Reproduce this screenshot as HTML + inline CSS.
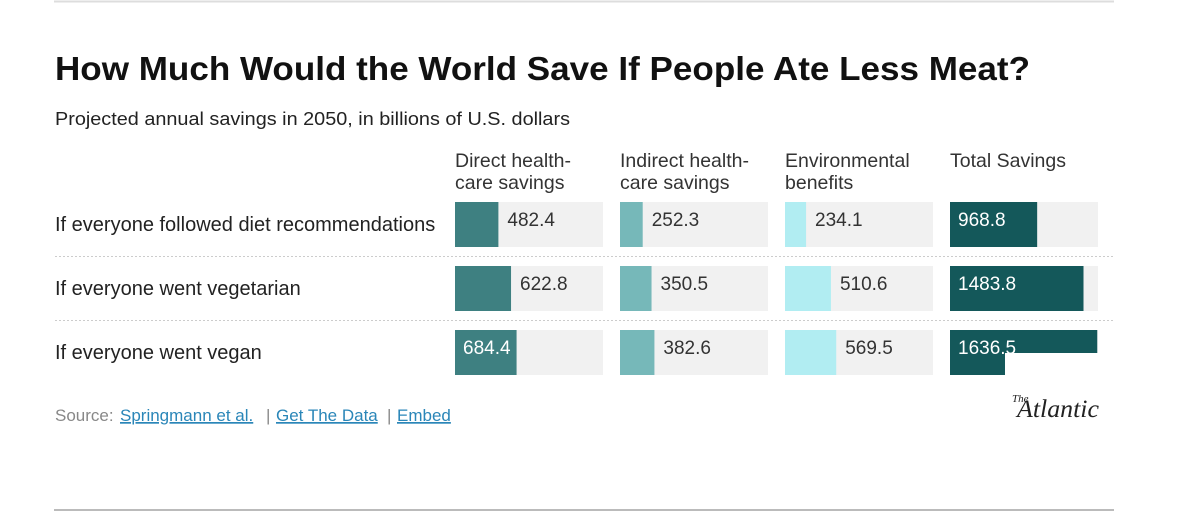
<!DOCTYPE html>
<html><head><meta charset="utf-8"><style>
body{margin:0;background:#fff;width:1200px;height:516px;overflow:hidden;font-family:"Liberation Sans",sans-serif}
svg{display:block}
</style></head><body>
<svg id="chart" width="1200" height="516">
<line x1="54" y1="1.5" x2="1114" y2="1.5" stroke="#ddd" stroke-width="2"/>
<line x1="54" y1="510" x2="1114" y2="510" stroke="#bbb" stroke-width="2"/>
<text x="55" y="80" font-size="33" font-weight="bold" fill="#111" textLength="975" lengthAdjust="spacingAndGlyphs">How Much Would the World Save If People Ate Less Meat?</text>
<text x="55" y="125" font-size="18" fill="#222" textLength="515" lengthAdjust="spacingAndGlyphs">Projected annual savings in 2050, in billions of U.S. dollars</text>
<g id="headers"></g>
<g id="rows"></g>
<text x="55" y="421" font-size="17" fill="#888">Source:</text>
<text x="120" y="421" font-size="17" fill="#2a86b8" text-decoration="underline">Springmann et al.</text>
<text x="266" y="421" font-size="17" fill="#888">|</text>
<text x="276" y="421" font-size="17" fill="#2a86b8" text-decoration="underline">Get The Data</text>
<text x="387" y="421" font-size="17" fill="#888">|</text>
<text x="397" y="421" font-size="17" fill="#2a86b8" text-decoration="underline">Embed</text>
<text x="1012" y="402" font-size="11" font-style="italic" fill="#222" font-family="Liberation Serif,serif">The</text>
<text x="1017" y="417" font-size="25" font-style="italic" fill="#222" font-family="Liberation Serif,serif" textLength="82" lengthAdjust="spacingAndGlyphs">Atlantic</text>
</svg>
<script>
const rowLabels=["If everyone followed diet recommendations","If everyone went vegetarian","If everyone went vegan"];
const headers1=["Direct health-","Indirect health-","Environmental","Total Savings"];
const headers2=["care savings","care savings","benefits",""];
const direct=[482.4,622.8,684.4];
const indirect=[252.3,350.5,382.6];
const environmental=[234.1,510.6,569.5];
const total=[968.8,1483.8,1636.5];
const series=[direct,indirect,environmental,total];
const colors=["#3e8081","#76b8b9","#b1edf2","#14585a"];
const NS="http://www.w3.org/2000/svg";
const colX=[455,620,785,950],panelW=148,maxV=1645,rowY0=202,rowStep=64,barH=45;
const xs=v=>v/maxV*panelW;
function mk(tag,attrs,parent){const e=document.createElementNS(NS,tag);for(const k in attrs)e.setAttribute(k,attrs[k]);parent.appendChild(e);return e;}
const hg=document.getElementById('headers'),rg=document.getElementById('rows');
headers1.forEach((h,i)=>{
  const t=mk('text',{x:colX[i],y:167,'font-size':19.5,fill:'#333'},hg);t.textContent=h;
  
  
  if(headers2[i]){const t2=mk('text',{x:colX[i],y:189,'font-size':19.5,fill:'#333'},hg);t2.textContent=headers2[i];
  
  }
});
rowLabels.forEach((lab,r)=>{
  const y=rowY0+r*rowStep;
  const t=mk('text',{x:55,y:y+29,'font-size':20,fill:'#222'},rg);t.textContent=lab;
  
  
  if(r>0){const l=mk('line',{x1:55,x2:1114,y1:y-9.5,y2:y-9.5,stroke:'#ccc','stroke-dasharray':'2,2'},rg);
    
    }
  series.forEach((s,c)=>{
    const bg=mk('rect',{x:colX[c],y:y,width:panelW,height:barH,fill:'#f1f1f1'},rg);
    
    
    const w=xs(s[r]);
    const b=mk('rect',{x:colX[c],y:y,width:w,height:barH,fill:colors[c]},rg);
    
    
    const inside=c===3||w>60;
    const tx=mk('text',{x:inside?colX[c]+8:colX[c]+w+9,y:y+24,'font-size':19,fill:inside?'#fff':'#333'},rg);
    tx.textContent=s[r].toFixed(1);
    
    
  });
});
// rendering glitch in reference for last total bar
const lastY=rowY0+2*rowStep;
const g=mk('rect',{x:colX[3]+55,y:lastY+23,width:panelW-55+2,height:barH-23+1,fill:'#fff'},rg);


</script>
</body></html>
